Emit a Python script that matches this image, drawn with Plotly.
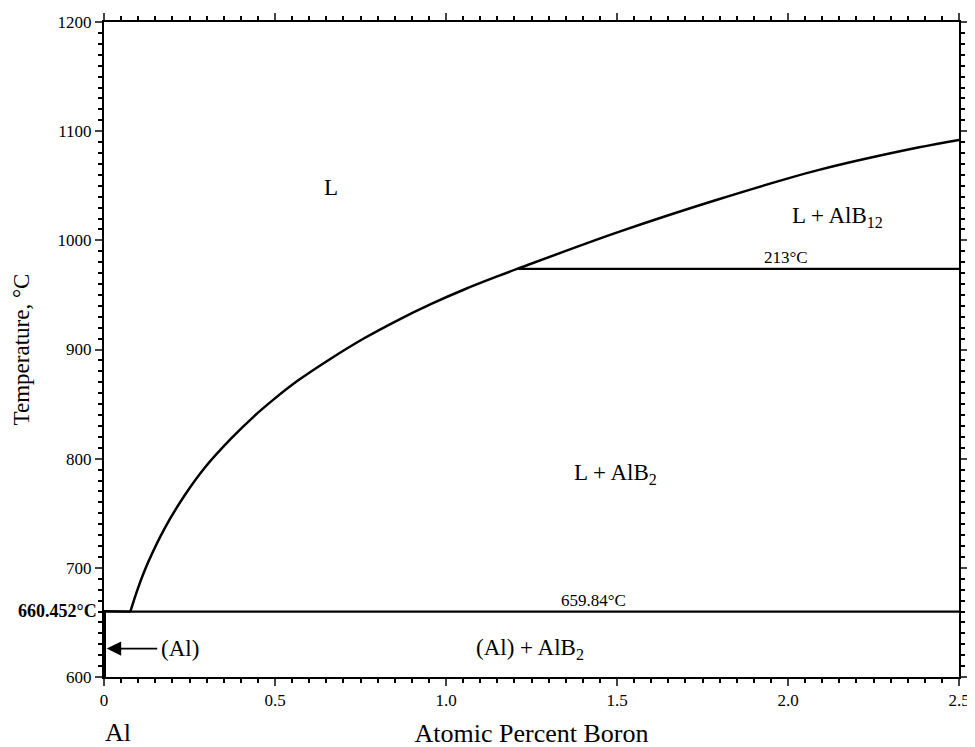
import plotly.graph_objects as go

# Liquidus (L / L+AlB2 / L+AlB12 boundary), atomic percent B vs temperature
liq_x = [0.077, 0.099, 0.129, 0.177, 0.236, 0.294, 0.372, 0.441, 0.499, 0.567, 0.665, 0.762,
         0.860, 0.957, 1.055, 1.152, 1.208, 1.503, 1.795, 2.088, 2.380, 2.5]
liq_t = [659.8, 681.0, 705.0, 736.0, 766.5, 791.5, 818.5, 839.5, 855.0, 871.5, 892.0, 910.5,
         927.0, 941.8, 955.2, 967.2, 973.8, 1007.5, 1037.4, 1064.3, 1085.0, 1092.0]

# Invariant lines
eut_x = [0.0, 2.5]
eut_t = [659.84, 659.84]
per_x = [1.208, 2.5]
per_t = [973.8, 973.8]
melt_x = [0.0, 0.077]
melt_t = [660.452, 659.84]
al_x = [0.0, 0.0]
al_t = [600.0, 660.452]

# Region labels
lab_text = ["L", "L + AlB<sub>12</sub>", "L + AlB<sub>2</sub>", "(Al) + AlB<sub>2</sub>", "(Al)"]
lab_x = [0.664, 2.146, 1.497, 1.245, 0.222]
lab_t = [1048, 1021, 786, 626, 626]

# Temperature labels on lines
tl_text = ["213°C", "659.84°C"]
tl_x = [1.994, 1.43]
tl_t = [984, 670.5]

x_ticks = [0, 0.5, 1.0, 1.5, 2.0, 2.5]
x_tick_text = ["0", "0.5", "1.0", "1.5", "2.0", "2.5"]
y_ticks = [600, 700, 800, 900, 1000, 1100, 1200]

FONT = "Liberation Serif, Times New Roman, serif"
line = dict(color="black", width=2.2)

fig = go.Figure()
fig.add_trace(go.Scatter(x=liq_x, y=liq_t, mode="lines",
                         line=dict(color="black", width=2.5, shape="spline", smoothing=1.0)))
fig.add_trace(go.Scatter(x=eut_x, y=eut_t, mode="lines", line=line))
fig.add_trace(go.Scatter(x=per_x, y=per_t, mode="lines", line=line))
fig.add_trace(go.Scatter(x=melt_x, y=melt_t, mode="lines", line=line))
fig.add_trace(go.Scatter(x=al_x, y=al_t, mode="lines", line=dict(color="black", width=4)))

for t, x, y in zip(lab_text, lab_x, lab_t):
    fig.add_annotation(x=x, y=y, text=t, showarrow=False, font=dict(family=FONT, size=23, color="black"))
for t, x, y in zip(tl_text, tl_x, tl_t):
    fig.add_annotation(x=x, y=y, text=t, showarrow=False, font=dict(family=FONT, size=17, color="black"))

# Arrow for (Al)
fig.add_annotation(x=0.008, y=626, ax=0.16, ay=626, axref="x", ayref="y", text="",
                   showarrow=True, arrowhead=2, arrowsize=1.7, arrowwidth=1.7, arrowcolor="black")

# Melting point label
fig.add_annotation(x=0, y=660.452, text="<b>660.452°C</b>", showarrow=False, xanchor="right", xshift=-5,
                   font=dict(family=FONT, size=18, color="black"))
# "Al" label under axis
fig.add_annotation(x=0, y=0, yref="paper", text="Al", showarrow=False, xshift=14, yshift=-72,
                   font=dict(family=FONT, size=26, color="black"))

fig.update_layout(
    width=975, height=747,
    margin=dict(l=96, r=24, t=14, b=78),
    plot_bgcolor="white", paper_bgcolor="white",
    showlegend=False,
    font=dict(family=FONT, size=17, color="black"),
    xaxis=dict(range=[0, 2.5], tickvals=x_ticks, ticktext=x_tick_text, ticks="outside", ticklen=7,
               tickwidth=1.5, showline=True, linecolor="black", linewidth=2, mirror="allticks",
               showgrid=False, zeroline=False, automargin=False,
               minor=dict(dtick=0.05, ticks="outside", ticklen=4, tickwidth=1.5, tickcolor="black"),
               title=dict(text="Atomic Percent Boron", font=dict(family=FONT, size=26), standoff=14),
               tickfont=dict(family=FONT, size=17)),
    yaxis=dict(range=[600, 1200], tickvals=y_ticks, ticks="outside", ticklen=7,
               tickwidth=1.5, showline=True, linecolor="black", linewidth=2, mirror="allticks",
               showgrid=False, zeroline=False, automargin=False,
               minor=dict(dtick=10, ticks="outside", ticklen=4, tickwidth=1.5, tickcolor="black"),
               title=dict(text="Temperature, °C", font=dict(family=FONT, size=23), standoff=22),
               tickfont=dict(family=FONT, size=17)),
)

fig.write_html("out.html")
